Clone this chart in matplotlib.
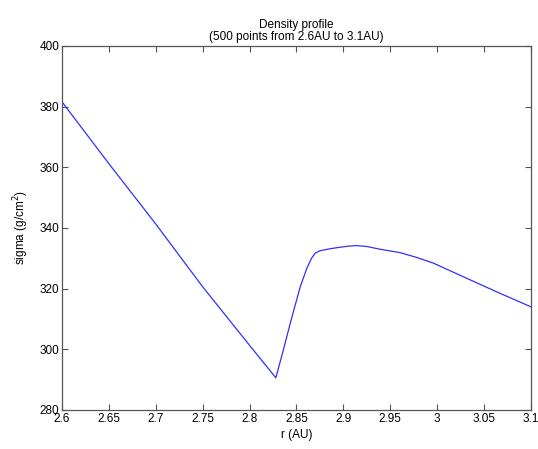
import numpy as np
import matplotlib
matplotlib.use('Agg')
import matplotlib.pyplot as plt

plt.rcParams['font.family'] = ['Liberation Sans', 'DejaVu Sans']

# density profile
r = [2.600, 2.650, 2.700, 2.750, 2.800, 2.828, 2.836, 2.845, 2.854, 2.861,
     2.866, 2.870, 2.875, 2.885, 2.893, 2.905, 2.914, 2.925, 2.939, 2.960,
     2.978, 2.996, 3.028, 3.063, 3.100]
sigma = [381.6, 361.2, 341.3, 320.6, 301.3, 290.6, 299.8, 310.5, 320.6, 326.7,
         330.0, 331.7, 332.5, 333.1, 333.5, 334.0, 334.2, 333.9, 333.0, 331.9,
         330.3, 328.4, 323.9, 319.0, 314.0]

xticks = [2.6, 2.65, 2.7, 2.75, 2.8, 2.85, 2.9, 2.95, 3.0, 3.05, 3.1]
xticklabels = ['2.6', '2.65', '2.7', '2.75', '2.8', '2.85', '2.9', '2.95', '3', '3.05', '3.1']
yticks = [280, 300, 320, 340, 360, 380, 400]

fig = plt.figure(figsize=(5.38, 4.49), dpi=100)
ax = fig.add_axes([0.1152, 0.0869, 0.8718, 0.8107])

ax.plot(r, sigma, color='#3030ff', lw=0.9)

ax.set_xlim(2.6, 3.1)
ax.set_ylim(280, 400)
ax.set_xticks(xticks)
ax.set_xticklabels(xticklabels)
ax.set_yticks(yticks)

for s in ax.spines.values():
    s.set_color('#555555')
    s.set_linewidth(0.9)
ax.tick_params(direction='in', length=4, width=0.8, color='#555555',
               top=True, right=True, labelsize=8.5, pad=2)

ax.set_xlabel('r (AU)', fontsize=8.5, labelpad=3)
ax.set_ylabel('sigma (g/cm$^2$)', fontsize=8.5, labelpad=6)
ax.set_title('Density profile\n(500 points from 2.6AU to 3.1AU)', fontsize=8.5,
             linespacing=1.1, pad=4)

fig.savefig('out.png', dpi=100)
